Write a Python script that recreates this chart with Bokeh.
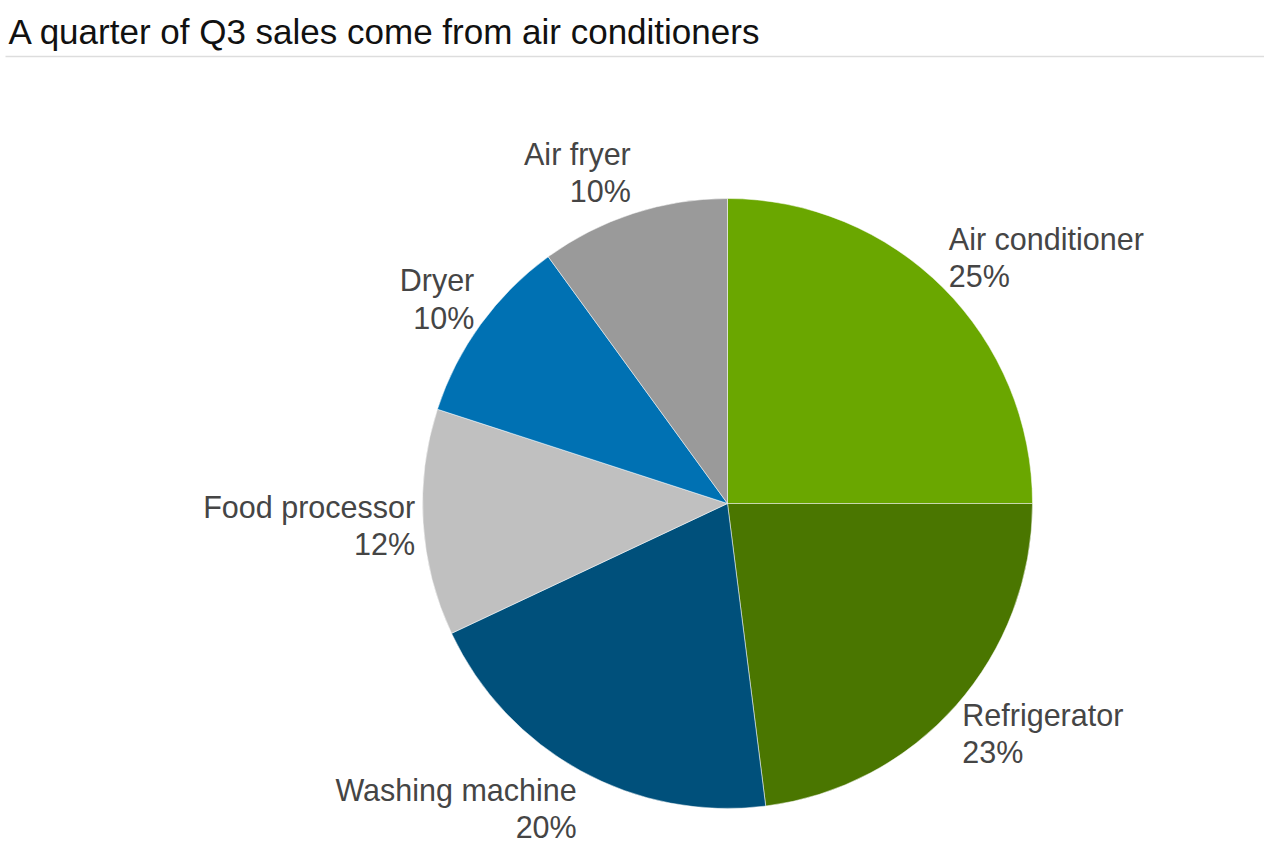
import math

from bokeh.core.properties import value
from bokeh.embed import file_html
from bokeh.models import ColumnDataSource, Range1d
from bokeh.plotting import figure
from bokeh.resources import INLINE

TITLE = "A quarter of Q3 sales come from air conditioners"

categories = ["Air conditioner", "Refrigerator", "Washing machine",
              "Food processor", "Dryer", "Air fryer"]
shares = [25, 23, 20, 12, 10, 10]
colors = ["#6aa700", "#4a7600", "#00507b", "#c0c0c0", "#0071b3", "#9a9a9a"]

WIDTH, HEIGHT = 1264, 851
# pie centre in pixels, used to put (0, 0) of the data space there
CX, CY = 727, 503
RADIUS = 305
LABEL_GAP = 8
LABEL_BLOCK = 70  # pushes top labels up and bottom labels down
FONT = "Liberation Sans"


def build_source():
    total = float(sum(shares))
    start, end, lx, ly, align, text = [], [], [], [], [], []
    acc = 0.0
    for cat, share in zip(categories, shares):
        a0 = math.pi / 2 - 2 * math.pi * acc / total
        acc += share
        a1 = math.pi / 2 - 2 * math.pi * acc / total
        start.append(a0)
        end.append(a1)
        mid = (a0 + a1) / 2
        ux, uy = math.cos(mid), math.sin(mid)
        lx.append(ux * (RADIUS + LABEL_GAP))
        ly.append(uy * (RADIUS + LABEL_GAP) + uy * LABEL_BLOCK / 2)
        align.append("left" if ux >= 0 else "right")
        text.append(f"{cat}\n{share}%")
    return ColumnDataSource(dict(category=categories, share=shares, color=colors,
                                 start=start, end=end, lx=lx, ly=ly,
                                 align=align, text=text))


def make_figure():
    p = figure(
        width=WIDTH, height=HEIGHT,
        x_range=Range1d(-CX, WIDTH - CX),
        y_range=Range1d(CY - HEIGHT, CY),
        x_axis_location=None, y_axis_location=None,
        toolbar_location=None, output_backend="svg",
        min_border=0,
    )
    p.grid.visible = False
    p.outline_line_color = None

    src = build_source()
    # wedges go clockwise from 12 o'clock, like the original
    p.wedge(x=0, y=0, radius=RADIUS, start_angle="start", end_angle="end",
            direction="clock", fill_color="color", line_color="white",
            line_width=0.5, source=src)

    p.text(x="lx", y="ly", text="text", text_align="align",
           text_baseline="middle", text_font=value(FONT),
           text_font_size="30.5px", text_color="#454545",
           text_line_height=1.1, source=src)

    # title and the thin rule beneath it
    p.text(x=[8 - CX], y=[CY - 31], text=[TITLE], text_align="left",
           text_baseline="alphabetic", text_font=value(FONT),
           text_font_size="35px", text_color="#111111")
    p.segment(x0=[5 - CX], y0=[CY - 56], x1=[WIDTH - CX], y1=[CY - 56],
              line_color="#dddddd", line_width=1.5)
    return p


p = make_figure()
open("out.html", "w").write(file_html(p, INLINE))
